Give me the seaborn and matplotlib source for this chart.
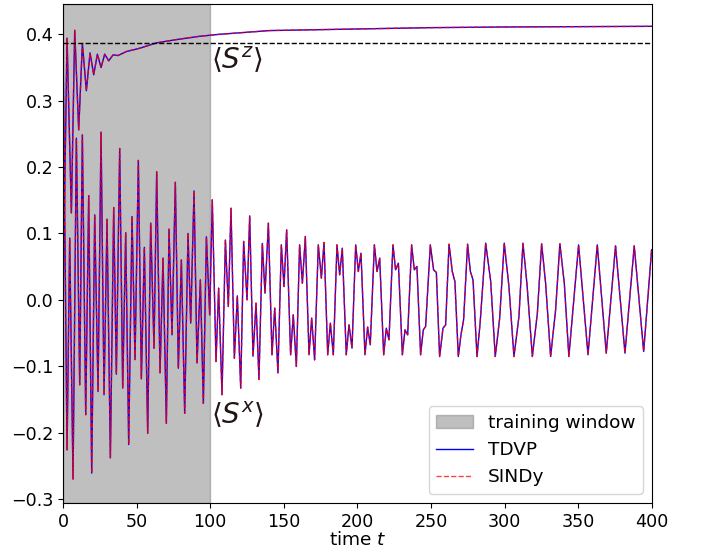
import numpy as np
import pandas as pd
import matplotlib
matplotlib.use("Agg")
import matplotlib.pyplot as plt
import seaborn as sns

# <S^x> turning points (time, value)
sx_t = [0, 2.74, 4.55, 6.81, 9.08, 11.34, 13.15, 15.42, 17.45, 19.49, 21.53, 23.79, 25.83,
        27.87, 29.9, 32.17, 34.43, 36.24, 38.5, 40.54, 42.58, 44.62, 46.88, 48.92, 51.18,
        53.22, 55.26, 57.52, 59.56, 61.82, 63.63, 65.9, 67.93, 70.2, 72.0, 74.05, 76.3,
        78.35, 80.4, 82.65, 84.9, 86.72, 89.0, 91.02, 93.3, 95.33, 97.4, 99.63, 101.4,
        103.93, 105.7, 108.0, 110.3, 112.3, 114.1, 116.4, 118.4, 120.7, 122.7, 125.0,
        126.8, 129.05, 131.1, 133.1, 135.4, 137.2, 139.5, 141.95, 143.8, 146.0, 148.3,
        150.1, 151.9, 154.6, 156.4, 158.5, 160.7, 162.6, 164.6, 167.1, 168.9, 170.9,
        173.4, 175.5, 177.3, 179.8, 181.6, 183.6, 186.1, 187.9, 189.7, 192.4, 194.25,
        196.3, 198.8, 200.6, 202.4, 205.1, 206.9, 208.7, 211.5, 213.3, 215.1, 217.8,
        219.6, 221.4, 224.1, 225.9, 227.8, 230.5, 232.3, 234.1, 236.8, 238.6, 240.4,
        242.9, 244.7, 246.3, 249.5, 251.7, 253.6, 255.8, 258.1, 259.9, 262.2, 264.4,
        266.2, 268.5, 270.3, 272.1, 274.8, 276.7, 278.5, 281.2, 283.4, 287.1, 290.5,
        293.6, 296.6, 299.7, 302.9, 306.3, 309.7, 312.4, 315.1, 318.8, 322.2, 325.1,
        327.8, 331.2, 334.6, 337.5, 340.5, 343.6, 350.2, 356.6, 362.9, 369.0, 375.3,
        381.7, 388.0, 394.4, 399.8]
sx_v = [0.385, -0.226, 0.093, -0.270, 0.2435, -0.128, 0.2485, -0.173, 0.157, -0.261, 0.128,
        -0.138, 0.2525, -0.143, 0.1215, -0.238, 0.139, -0.112, 0.228, -0.133, 0.101, -0.218,
        0.1255, -0.090, 0.210, -0.119, 0.079, -0.201, 0.1155, -0.073, 0.193, -0.110, 0.0628,
        -0.186, 0.1065, -0.0527, 0.177, -0.103, 0.060, -0.171, 0.100, -0.035, 0.164, -0.095,
        0.030, -0.156, 0.095, -0.0226, 0.1506, -0.093, 0.0176, -0.143, 0.090, -0.010, 0.138,
        -0.088, 0.006, -0.133, 0.088, 0.0, 0.1265, -0.085, -0.005, -0.12, 0.085, 0.010,
        0.1155, -0.0828, -0.0125, -0.110, 0.0828, 0.020, 0.1054, -0.0828, -0.0226, -0.1004,
        0.0828, 0.025, 0.0954, -0.0828, -0.0276, -0.0904, 0.0828, 0.0327, 0.0864, -0.0828,
        -0.0351, -0.0828, 0.0828, 0.0377, 0.0778, -0.0828, -0.0377, -0.0728, 0.0828, 0.0427,
        0.0703, -0.0828, -0.0411, -0.0678, 0.0828, 0.0427, 0.0628, -0.0828, -0.0427, -0.0602,
        0.0828, 0.0452, 0.0552, -0.0828, -0.0452, -0.0527, 0.0828, 0.0452, 0.0502, -0.0828,
        -0.0452, -0.0402, 0.0828, 0.0452, 0.0412, -0.0854, -0.0427, -0.0377, 0.0838, 0.0427,
        0.0276, -0.0854, -0.0527, -0.0301, 0.0838, 0.0427, 0.030, -0.0854, -0.0327, 0.0854,
        0.0276, -0.0854, -0.0276, 0.0854, 0.020, -0.0854, -0.0251, 0.0854, 0.025, -0.0854,
        -0.020, 0.0844, 0.025, -0.0854, -0.015, 0.0844, 0.025, -0.0854, 0.0828, -0.0828,
        0.0828, -0.0803, 0.0813, -0.0803, 0.0813, -0.0778, 0.0753]

# <S^z>
sz_t = [0, 2.74, 5.68, 7.95, 10.66, 13.15, 15.87, 18.36, 20.85, 23.34, 25.83, 28.32, 31.04,
        34.0, 37.4, 43.0, 52.1, 63.4, 77.0, 92.8, 106.4, 140.4, 200, 250, 300, 350, 400]
sz_v = [0.0, 0.394, 0.131, 0.406, 0.256, 0.386, 0.315, 0.372, 0.339, 0.370, 0.350, 0.370,
        0.360, 0.369, 0.368, 0.374, 0.379, 0.387, 0.392, 0.397, 0.400, 0.4056, 0.408, 0.410,
        0.411, 0.4115, 0.412]

sz_reference = 0.387
train_end = 100
xlabels = ["0", "50", "100", "150", "200", "250", "300", "350", "400"]

fig, ax = plt.subplots(figsize=(7.04, 5.5), dpi=100)
fig.subplots_adjust(left=0.0895, right=0.926, bottom=0.0855, top=0.9927)

ax.axvspan(0, train_end, color="gray", alpha=0.5, label="training window", zorder=0)

df_x = pd.DataFrame({"t": sx_t, "v": sx_v})
df_z = pd.DataFrame({"t": sz_t, "v": sz_v})

sns.lineplot(data=df_x, x="t", y="v", ax=ax, color="blue", lw=1, estimator=None,
             sort=False, label="TDVP")
sns.lineplot(data=df_z, x="t", y="v", ax=ax, color="blue", lw=1, estimator=None,
             sort=False)
sns.lineplot(data=df_x, x="t", y="v", ax=ax, color="red", lw=1, alpha=0.75,
             linestyle="--", estimator=None, sort=False, label="SINDy")
sns.lineplot(data=df_z, x="t", y="v", ax=ax, color="red", lw=1, alpha=0.75,
             linestyle="--", estimator=None, sort=False)

ax.axhline(sz_reference, color="black", ls="--", lw=1)

ax.text(100.5, 0.361, r"$\langle S^z\rangle$", fontsize=20, color="#231515",
        ha="left", va="center")
ax.text(100.5, -0.173, r"$\langle S^x\rangle$", fontsize=20, color="#231515",
        ha="left", va="center")

ax.set_xlim(0, 400)
ax.set_ylim(-0.306, 0.4456)
ax.set_xticks([int(s) for s in xlabels])
ax.set_xticklabels(xlabels)
ax.set_yticks([-0.3, -0.2, -0.1, 0.0, 0.1, 0.2, 0.3, 0.4])
ax.tick_params(labelsize=12.6)
ax.set_xlabel("time $t$", fontsize=13.3, labelpad=0)
ax.set_ylabel("")

ax.legend(loc="lower right", fontsize=13.3)

fig.savefig("out.png", dpi=100)
